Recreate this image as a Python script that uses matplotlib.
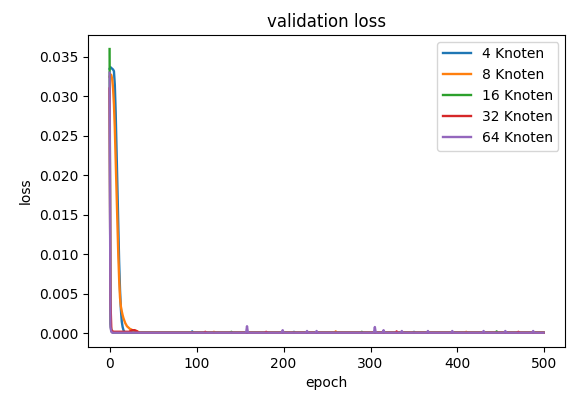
import numpy as np
import matplotlib
matplotlib.use("Agg")
import matplotlib.pyplot as plt

n_epochs = 500
labels = ["4 Knoten", "8 Knoten", "16 Knoten", "32 Knoten", "64 Knoten"]

head_4 = [0.0335, 0.0337, 0.0336, 0.0335, 0.0334, 0.0332, 0.0315, 0.0280, 0.0235,
          0.0185, 0.0135, 0.0090, 0.0055, 0.0030, 0.0015, 0.0008, 0.0004, 0.0002]
head_8 = [0.0325, 0.0328, 0.0327, 0.0322, 0.0310, 0.0290, 0.0260, 0.0220, 0.0180,
          0.0140, 0.0100, 0.0068, 0.0045, 0.0034, 0.0028, 0.0023, 0.0019, 0.0016,
          0.0013, 0.0011, 0.0009, 0.0008, 0.0007, 0.0006, 0.0005, 0.0005, 0.0004,
          0.0004, 0.0004, 0.0003, 0.0003, 0.0003, 0.0002, 0.0002]
head_16 = [0.0360, 0.0012, 0.0003, 0.0002]
head_32 = [0.0310, 0.0040, 0.0005, 0.0003, 0.0002, 0.0002, 0.0002, 0.0002, 0.0002,
           0.0002, 0.0002, 0.0002, 0.0002, 0.0002, 0.0002, 0.0002, 0.0002, 0.0002,
           0.0002, 0.0002, 0.0002, 0.0002, 0.0002, 0.0002, 0.0003, 0.0003, 0.0004,
           0.0004, 0.0004, 0.0004, 0.0003, 0.0003, 0.0002]
head_64 = [0.0330, 0.0008, 0.0002]

# flat tail after convergence, with the small spikes seen in the plot
tail_base = 0.00008
spikes_4 = {95: 0.00025, 212: 0.0002, 350: 0.0002}
spikes_8 = {120: 0.0002, 260: 0.00025, 410: 0.0002}
spikes_16 = {140: 0.0002, 290: 0.0002, 445: 0.00025}
spikes_32 = {110: 0.0002, 180: 0.0002, 330: 0.00025, 470: 0.0002}
spikes_64 = {158: 0.0009, 199: 0.0004, 227: 0.0003, 238: 0.0003, 305: 0.0008,
             315: 0.0004, 336: 0.0003, 366: 0.0003, 394: 0.0003, 430: 0.0003,
             455: 0.0003, 487: 0.0003}

heads = [head_4, head_8, head_16, head_32, head_64]
spikes = [spikes_4, spikes_8, spikes_16, spikes_32, spikes_64]

epochs = np.arange(n_epochs)
fig, ax = plt.subplots(figsize=(5.67, 3.96), dpi=100)
for label, head, sp in zip(labels, heads, spikes):
    y = np.full(n_epochs, tail_base)
    y[:len(head)] = head
    for e, v in sp.items():
        y[e] = v
    ax.plot(epochs, y, label=label, lw=1.7)

ax.set_title("validation loss")
ax.set_xlabel("epoch")
ax.set_ylabel("loss")
ax.legend(loc="upper right")
plt.subplots_adjust(left=0.155, right=0.997, top=0.912, bottom=0.124)
plt.savefig("out.png")
